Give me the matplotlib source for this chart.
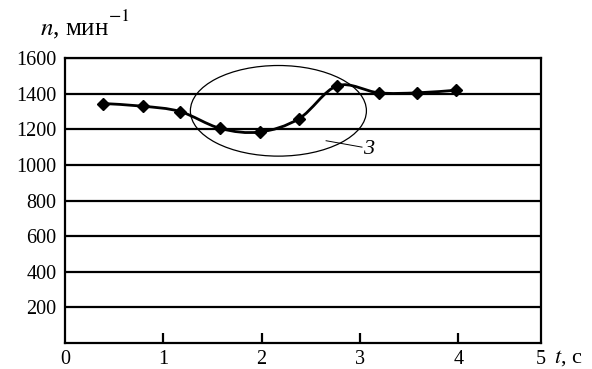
import matplotlib
matplotlib.use("Agg")
import matplotlib.pyplot as plt
from matplotlib.path import Path
from matplotlib.patches import PathPatch, Ellipse
import numpy as np

plt.rcParams['font.family'] = ['Liberation Serif', 'DejaVu Serif']
plt.rcParams['mathtext.fontset'] = 'stix'

# data
t = [0.39, 0.79, 1.17, 1.58, 1.98, 2.38, 2.77, 3.19, 3.58, 3.98]
n = [1345, 1330, 1300, 1205, 1185, 1260, 1445, 1405, 1405, 1420]
y_ticks = [200, 400, 600, 800, 1000, 1200, 1400, 1600]
x_ticks = [0, 1, 2, 3, 4]
x_labels = ['0', '1', '2', '3', '4', '5']
x_end = 4.84

FS = 14.5

fig = plt.figure(figsize=(5.92, 3.69), dpi=100)
ax = fig.add_axes([0.1098, 0.0705, 0.804, 0.772])
ax.set_xlim(0, x_end)
ax.set_ylim(0, 1600)

for v in y_ticks:
    ax.axhline(v, color='black', lw=1.6, zorder=1)

# smooth curve (Catmull-Rom -> cubic Bezier)
P = np.column_stack([t, n]).astype(float)
verts = [P[0]]
codes = [Path.MOVETO]
N = len(P)
for i in range(N - 1):
    p0 = P[i - 1] if i > 0 else P[i]
    p1 = P[i]
    p2 = P[i + 1]
    p3 = P[i + 2] if i + 2 < N else P[i + 1]
    c1 = p1 + (p2 - p0) / 6.0
    c2 = p2 - (p3 - p1) / 6.0
    verts += [c1, c2, p2]
    codes += [Path.CURVE4] * 3
ax.add_patch(PathPatch(Path(verts, codes), fill=False, lw=2.0, color='black', zorder=3))
ax.plot(t, n, linestyle='none', marker='D', markersize=6.5, color='black', zorder=4)

# ellipse + label
ax.add_patch(Ellipse((2.17, 1304), 1.79, 509, fill=False, lw=0.9, color='black', zorder=2))
ax.plot([2.655, 3.02], [1136, 1100], color='black', lw=0.7, zorder=2)
ax.text(3.03, 1085, '3', fontsize=16, style='italic', ha='left', va='center')

for s in ax.spines.values():
    s.set_linewidth(1.6)
    s.set_zorder(5)

ax.set_yticks(y_ticks)
ax.set_yticklabels([str(v) for v in y_ticks])
ax.set_xticks(x_ticks + [x_end])
ax.set_xticklabels(x_labels)
ax.tick_params(axis='y', length=0, pad=6, labelsize=FS)
ax.tick_params(axis='x', direction='in', length=7, width=1.6, pad=5, labelsize=FS)
xt = ax.xaxis.get_major_ticks()
xt[0].tick1line.set_visible(False)
xt[-1].tick1line.set_visible(False)

fig.text(0.068, 0.905, r'$n$, мин', fontsize=18, ha='left', va='baseline')
fig.text(0.183, 0.944, r'$-1$', fontsize=13, ha='left', va='baseline')
fig.text(0.935, 0.03, r'$t$, с', fontsize=16, ha='left', va='center')

fig.savefig('out.png', dpi=100)
